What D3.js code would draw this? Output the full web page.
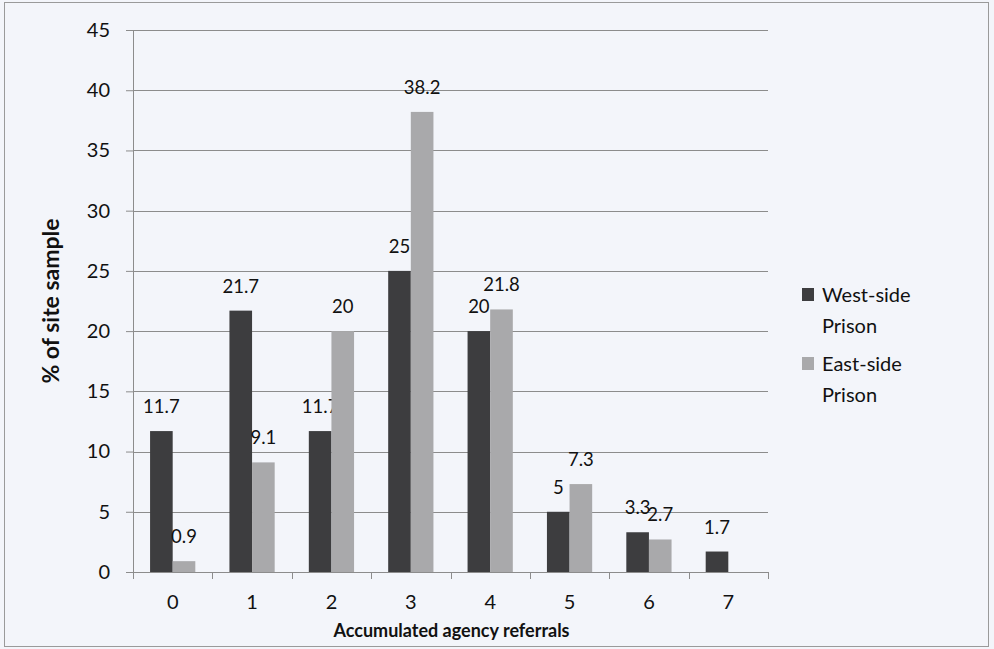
<!DOCTYPE html>
<html>
<head>
<meta charset="utf-8">
<script src="https://cdn.jsdelivr.net/npm/d3@7"></script>
<style>
  html, body { margin: 0; padding: 0; background: #f3f5fa; }
  svg { display: block; }
  text { font-family: Lato, "Open Sans", sans-serif; fill: #111; }
</style>
</head>
<body>
<svg id="chart" width="994" height="649"></svg>
<script>
// Accumulated agency referrals per prison site (% of site sample)
const categories = ["0", "1", "2", "3", "4", "5", "6", "7"];
const westSide = [11.7, 21.7, 11.7, 25, 20, 5, 3.3, 1.7];
const eastSide = [0.9, 9.1, 20, 38.2, 21.8, 7.3, 2.7, null];
const seriesNames = ["West-side Prison", "East-side Prison"];
const yTicks = [0, 5, 10, 15, 20, 25, 30, 35, 40, 45];

const svg = d3.select("#chart");
const W = 994, H = 649;
const margin = { left: 133, right: 226, top: 30, bottom: 77 };
const plotW = W - margin.left - margin.right;
const plotH = H - margin.top - margin.bottom;

// background and frame
svg.append("rect").attr("x", 0).attr("y", 0).attr("width", W).attr("height", H).attr("fill", "#f3f5fa");
svg.append("rect").attr("x", 4.5).attr("y", 2.5).attr("width", 984).attr("height", 644)
  .attr("fill", "none").attr("stroke", "#9a9a9a").attr("stroke-width", 1);

const g = svg.append("g").attr("transform", `translate(${margin.left},${margin.top})`);

const x = d3.scaleBand().domain(categories).range([0, plotW]).paddingInner(0).paddingOuter(0);
const inner = d3.scaleBand().domain([0, 1]).range([x.bandwidth() * 0.215, x.bandwidth() * 0.785]);
const y = d3.scaleLinear().domain([0, 45]).range([plotH, 0]);

// horizontal gridlines
g.append("g").selectAll("line").data(yTicks.filter(d => d > 0)).join("line")
  .attr("x1", 0).attr("x2", plotW)
  .attr("y1", d => Math.round(y(d)) + 0.5).attr("y2", d => Math.round(y(d)) + 0.5)
  .attr("stroke", "#8c8c8c").attr("stroke-width", 1);

// y axis
const yAxis = g.append("g").call(d3.axisLeft(y).tickValues(yTicks).tickSize(7).tickPadding(16));
yAxis.select(".domain").attr("stroke", "#8c8c8c");
yAxis.selectAll(".tick line").attr("stroke", "#8c8c8c");
yAxis.selectAll(".tick text").attr("font-size", 20).attr("fill", "#111");

const colors = ["#3d3d3f", "#a9a9ab"];
const series = [westSide, eastSide];

series.forEach((vals, si) => {
  const data = categories.map((c, i) => ({ c, v: vals[i] })).filter(d => d.v != null);
  g.append("g").selectAll("rect").data(data).join("rect")
    .attr("x", d => x(d.c) + inner(si))
    .attr("y", d => y(d.v))
    .attr("width", inner.bandwidth())
    .attr("height", d => y(0) - y(d.v))
    .attr("fill", colors[si]);
  g.append("g").selectAll("text").data(data).join("text")
    .attr("x", d => x(d.c) + inner(si) + inner.bandwidth() / 2)
    .attr("y", d => y(d.v) - 18)
    .attr("text-anchor", "middle")
    .attr("font-size", 18.5)
    .text(d => d.v);
});

// x axis
const xAxis = g.append("g").attr("transform", `translate(0,${plotH})`)
  .call(d3.axisBottom(x).tickSize(0).tickPadding(23));
xAxis.select(".domain").attr("stroke", "#8c8c8c");
xAxis.selectAll(".tick text").attr("font-size", 20).attr("fill", "#111");
g.append("g").selectAll("line").data(d3.range(categories.length + 1)).join("line")
  .attr("x1", i => Math.round(i * x.step()) + 0.5).attr("x2", i => Math.round(i * x.step()) + 0.5)
  .attr("y1", plotH).attr("y2", plotH + 7)
  .attr("stroke", "#8c8c8c");

// axis titles
svg.append("text")
  .attr("x", margin.left + plotW / 2 + 1).attr("y", 637)
  .attr("text-anchor", "middle").attr("font-size", 18).attr("font-weight", "bold")
  .text("Accumulated agency referrals");
svg.append("text")
  .attr("transform", `translate(59,${margin.top + plotH / 2}) rotate(-90)`)
  .attr("text-anchor", "middle").attr("font-size", 23).attr("font-weight", "bold")
  .text("% of site sample");

// legend
const legend = svg.append("g").attr("transform", "translate(802,288)");
seriesNames.forEach((name, i) => {
  const lg = legend.append("g").attr("transform", `translate(0,${i * 69})`);
  lg.append("rect").attr("x", 0).attr("y", 0).attr("width", 12).attr("height", 13).attr("fill", colors[i]);
  const words = name.split(" ");
  lg.append("text").attr("x", 20).attr("y", 14).attr("font-size", 20).text(words[0]);
  lg.append("text").attr("x", 20).attr("y", 45).attr("font-size", 20).text(words[1]);
});
</script>
</body>
</html>
